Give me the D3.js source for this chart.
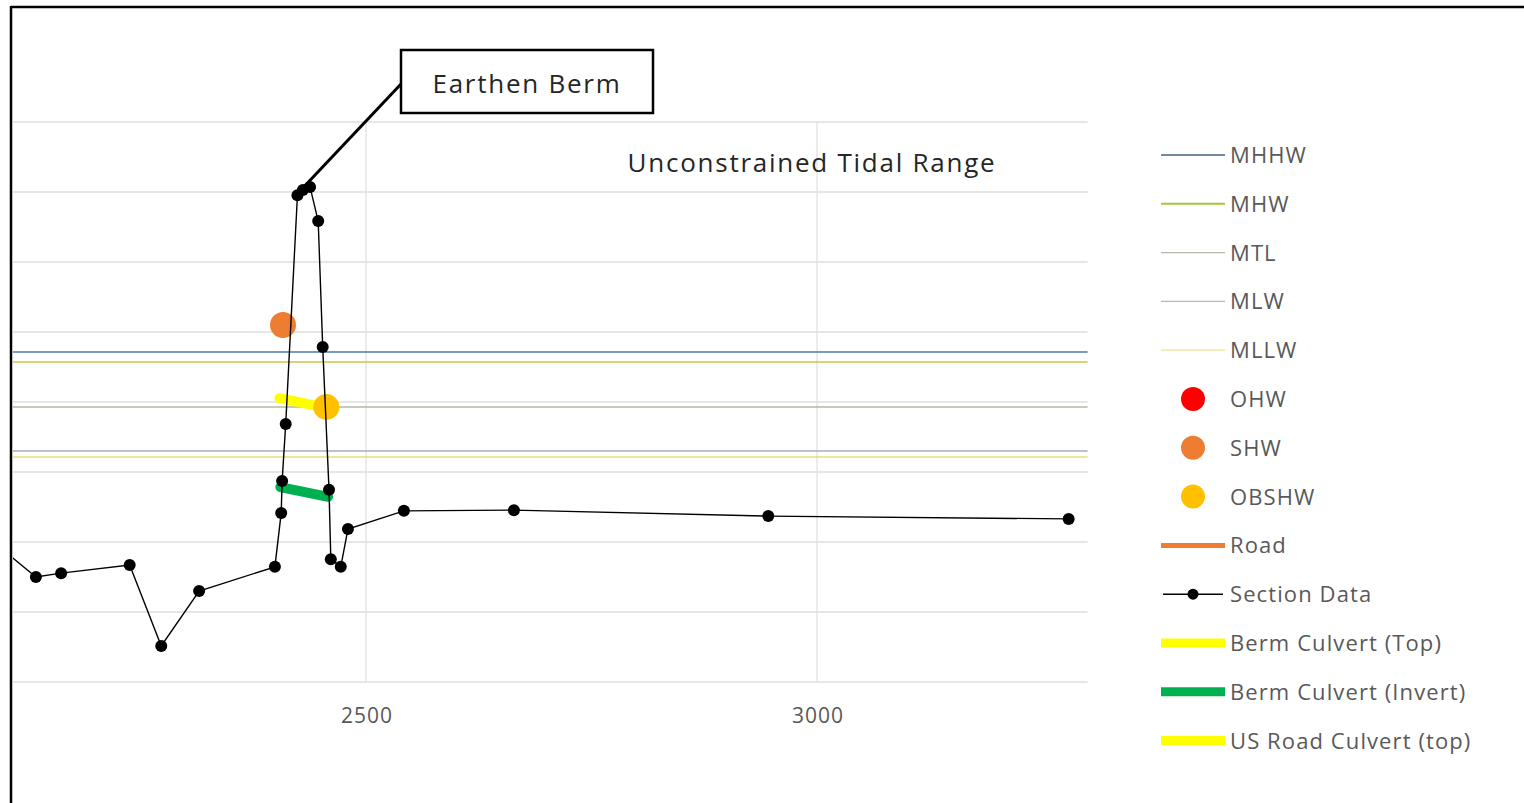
<!DOCTYPE html>
<html>
<head>
<meta charset="utf-8">
<script src="https://cdn.jsdelivr.net/npm/d3@7"></script>
<style>
  body { margin: 0; background: #fff; }
  svg { display: block; font-family: "Open Sans", "DejaVu Sans", sans-serif; }
  .lbl { fill: #595959; font-size: 22px; letter-spacing: 1.1px; }
  .tick { fill: #595959; font-size: 21px; letter-spacing: 1px; }
  .big { fill: #262626; font-size: 26px; letter-spacing: 1.75px; }
</style>
</head>
<body>
<svg width="1524" height="803"></svg>
<script>
// station (ft) and elevation (ft) of the surveyed section
const sectionX = [2090, 2134, 2162, 2238, 2273, 2315, 2399, 2406, 2407, 2411, 2424, 2430, 2438, 2447, 2452, 2459, 2461, 2472, 2480, 2542, 2664, 2946, 3279]
const sectionY = [-2.06, -3.0, -2.89, -2.66, -4.97, -3.4, -2.71, -1.17, -0.26, 1.37, 7.91, 8.06, 8.14, 7.17, 3.57, -0.51, -2.49, -2.71, -1.63, -1.11, -1.09, -1.26, -1.34]

// tidal datums
const datumNames = ["MHHW", "MHW", "MTL", "MLW", "MLLW"]
const datumValues = [3.43, 3.14, 1.86, 0.6, 0.43]
const datumColors = ["#4a7ba6", "#cfc54a", "#b9b79a", "#a9adb5", "#e8df78"]

// single points
const pointNames = ["SHW", "OBSHW"]
const pointX = [2408, 2456]
const pointY = [4.2, 1.86]
const pointColors = ["#ed7d31", "#ffc000"]

// culvert segments
const culvertNames = ["Berm Culvert (Top)", "Berm Culvert (Invert)"]
const culvertX = [[2404, 2456], [2405, 2458]]
const culvertY = [[2.11, 1.83], [-0.43, -0.71]]
const culvertColors = ["#ffff00", "#00b050"]

const xTicks = [2500, 3000]
const yTicks = [-6, -4, -2, 0, 2, 4, 6, 8, 10]

const legendItems = [
  { name: "MHHW", type: "line", color: "#44607f", w: 1.3 },
  { name: "MHW", type: "line", color: "#a5c43a", w: 2 },
  { name: "MTL", type: "line", color: "#b8b8a8", w: 1.3 },
  { name: "MLW", type: "line", color: "#b4b8bf", w: 1.3 },
  { name: "MLLW", type: "line", color: "#e8e49a", w: 1.3 },
  { name: "OHW", type: "dot", color: "#ff0000" },
  { name: "SHW", type: "dot", color: "#ed7d31" },
  { name: "OBSHW", type: "dot", color: "#ffc000" },
  { name: "Road", type: "line", color: "#ed7d31", w: 5 },
  { name: "Section Data", type: "marker", color: "#000" },
  { name: "Berm Culvert (Top)", type: "line", color: "#ffff00", w: 9 },
  { name: "Berm Culvert (Invert)", type: "line", color: "#00b050", w: 9 },
  { name: "US Road Culvert (top)", type: "line", color: "#ffff00", w: 9 }
]

const svg = d3.select("svg")

const x = d3.scaleLinear().domain([2500, 3000]).range([366, 817])
const y = d3.scaleLinear().domain([-6, 10]).range([682, 122])
const plotLeft = 13, plotRight = x(3300)

svg.append("defs").append("clipPath").attr("id", "plot")
  .append("rect").attr("x", plotLeft).attr("y", 100).attr("width", plotRight - plotLeft + 10).attr("height", 600)

const g = svg.append("g").attr("clip-path", "url(#plot)")

// gridlines
g.selectAll(".hgrid").data(yTicks).enter().append("line")
  .attr("x1", plotLeft).attr("x2", plotRight)
  .attr("y1", d => y(d)).attr("y2", d => y(d))
  .attr("stroke", "#dedede").attr("stroke-width", 1.3)
g.selectAll(".vgrid").data(xTicks).enter().append("line")
  .attr("x1", d => x(d)).attr("x2", d => x(d))
  .attr("y1", y(10)).attr("y2", y(-6))
  .attr("stroke", "#e2e2e2").attr("stroke-width", 1.3)

// datum lines
datumNames.forEach((n, i) => {
  g.append("line")
    .attr("x1", plotLeft).attr("x2", plotRight)
    .attr("y1", y(datumValues[i])).attr("y2", y(datumValues[i]))
    .attr("stroke", datumColors[i]).attr("stroke-width", 1.5)
})

// culverts
culvertNames.forEach((n, i) => {
  let pts = culvertX[i].map((v, j) => [x(v), y(culvertY[i][j])])
  g.append("path").attr("d", d3.line()(pts))
    .attr("stroke", culvertColors[i]).attr("stroke-width", 10)
    .attr("stroke-linecap", "round").attr("fill", "none")
})

// water level points
pointNames.forEach((n, i) => {
  g.append("circle").attr("cx", x(pointX[i])).attr("cy", y(pointY[i]))
    .attr("r", 13).attr("fill", pointColors[i])
})

// section line
const section = sectionX.map((v, i) => [v, sectionY[i]])
g.append("path").datum(section)
  .attr("d", d3.line().x(d => x(d[0])).y(d => y(d[1])))
  .attr("fill", "none").attr("stroke", "#000").attr("stroke-width", 1.4)
g.selectAll(".pt").data(section).enter().append("circle")
  .attr("cx", d => x(d[0])).attr("cy", d => y(d[1]))
  .attr("r", 6).attr("fill", "#000")

// x axis labels
svg.selectAll(".xt").data(xTicks).enter().append("text")
  .attr("class", "tick")
  .attr("x", d => x(d) + 1).attr("y", 723)
  .attr("text-anchor", "middle")
  .text(d => d)

// title
svg.append("text").attr("class", "big").attr("x", 812).attr("y", 172)
  .attr("text-anchor", "middle")
  .text("Unconstrained Tidal Range")

// callout
svg.append("line").attr("x1", 401).attr("y1", 84).attr("x2", 299).attr("y2", 192)
  .attr("stroke", "#000").attr("stroke-width", 3)
svg.append("rect").attr("x", 401).attr("y", 50).attr("width", 252).attr("height", 63)
  .attr("fill", "#fff").attr("stroke", "#000").attr("stroke-width", 2.5)
svg.append("text").attr("class", "big").attr("x", 527).attr("y", 93)
  .attr("text-anchor", "middle")
  .text("Earthen Berm")

// legend
const lg = svg.append("g")
legendItems.forEach((d, i) => {
  let yy = 155 + i * 48.8
  let row = lg.append("g").attr("transform", `translate(0,${yy})`)
  if (d.type == "line") {
    row.append("line").attr("x1", 1161).attr("x2", 1225).attr("y1", 0).attr("y2", 0)
      .attr("stroke", d.color).attr("stroke-width", d.w)
  } else if (d.type == "dot") {
    row.append("circle").attr("cx", 1193).attr("cy", 0).attr("r", 12).attr("fill", d.color)
  } else {
    row.append("line").attr("x1", 1163).attr("x2", 1223).attr("y1", 0).attr("y2", 0)
      .attr("stroke", d.color).attr("stroke-width", 1.5)
    row.append("circle").attr("cx", 1193).attr("cy", 0).attr("r", 5.5).attr("fill", d.color)
  }
  row.append("text").attr("class", "lbl").attr("x", 1230).attr("y", 8).text(d.name)
})

// outer frame (cropped)
svg.append("line").attr("x1", 11).attr("x2", 1524).attr("y1", 7).attr("y2", 7)
  .attr("stroke", "#000").attr("stroke-width", 2.5)
svg.append("line").attr("x1", 11).attr("x2", 11).attr("y1", 6).attr("y2", 803)
  .attr("stroke", "#000").attr("stroke-width", 2.5)
</script>
</body>
</html>
